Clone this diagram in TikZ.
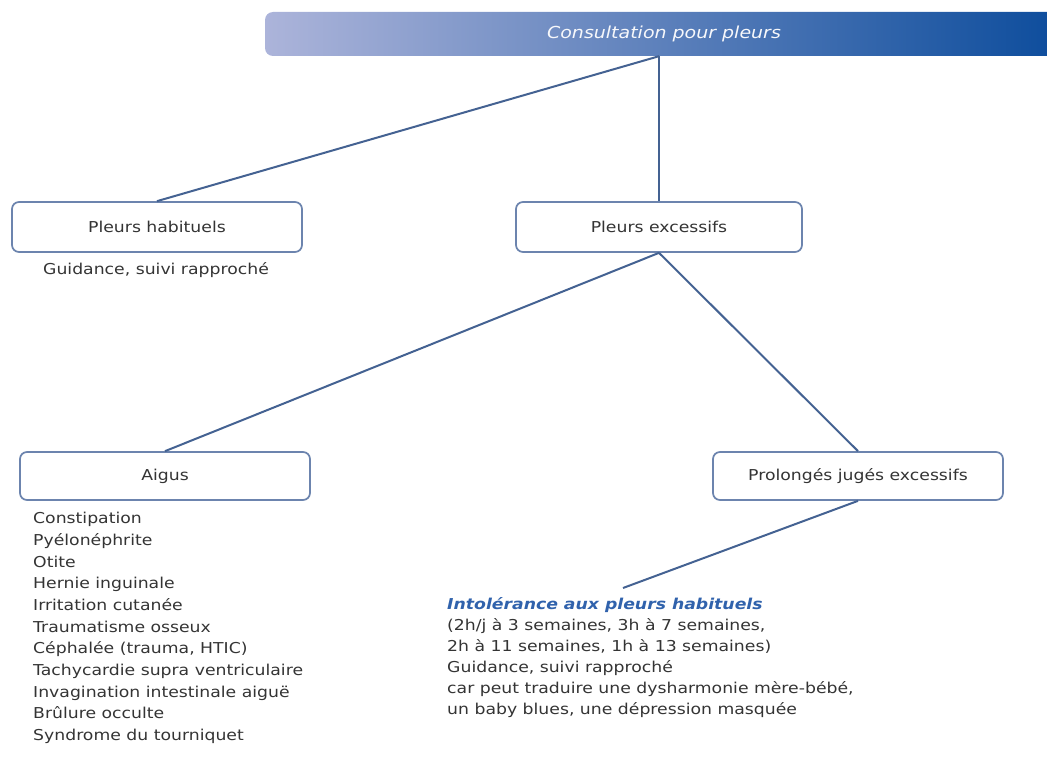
\documentclass[tikz,border=0pt]{standalone}
\usepackage{fontspec}
\setmainfont{DejaVu Sans}[FakeStretch=1.15]
\usetikzlibrary{positioning}

\definecolor{barclair}{RGB}{172,180,218}
\definecolor{barmilieu}{RGB}{122,138,194}
\definecolor{barfonce}{RGB}{12,76,156}
\definecolor{cadre}{RGB}{108,132,174}
\definecolor{trait}{RGB}{68,98,146}
\definecolor{texte}{RGB}{52,52,52}
\definecolor{bleutitre}{RGB}{48,98,172}

\tikzset{
  barre/.style={rounded corners=8pt, left color=barclair, middle color=barmilieu,
    right color=barfonce, minimum width=798, minimum height=44,
    text=white!90!barclair, font=\fontsize{16.5}{20}\selectfont\itshape},
  boite/.style={draw=cadre, line width=1.7pt, rounded corners=7pt, fill=white,
    minimum width=290, minimum height=50, text=texte,
    font=\fontsize{15}{18}\selectfont},
  lien/.style={draw=trait, line width=2pt},
  liste/.style={anchor=north west, align=left, inner sep=0pt, text=texte,
    font=\fontsize{15}{21.7}\selectfont}
}

\begin{document}
\begin{tikzpicture}[x=1pt, y=-1pt]
        \useasboundingbox (0,0) rectangle (1047,760);
        \clip (0,0) rectangle (1047,760);

        % bandeau du haut
        \node[barre] (consult) at (664,34) {Consultation pour pleurs};

        % premier niveau
        \node[boite] (habituels) at (157,227) {Pleurs habituels};
        \node[boite, minimum width=286] (excessifs) at (659,227) {Pleurs excessifs};
        \node[text=texte, font=\fontsize{15}{18}\selectfont] (guidance) at (156,270)
            {Guidance, suivi rapproché};

        % second niveau
        \node[boite, minimum height=48] (aigus) at (165,476) {Aigus};
        \node[boite, minimum height=48] (prolonges) at (858,476)
            {Prolongés jugés excessifs};

        \node[liste] (causes) at (33,512) {Constipation\\
            Pyélonéphrite\\
            Otite\\
            Hernie inguinale\\
            Irritation cutanée\\
            Traumatisme osseux\\
            Céphalée (trauma, HTIC)\\
            Tachycardie supra ventriculaire\\
            Invagination intestinale aiguë\\
            Brûlure occulte\\
            Syndrome du tourniquet};

        \node[liste, font=\fontsize{15}{21}\selectfont] (intolerance) at (447,597)
            {{\color{bleutitre}\bfseries\itshape Intolérance aux pleurs habituels}\\
            (2h/j à 3 semaines, 3h à 7 semaines,\\
            2h à 11 semaines, 1h à 13 semaines)\\
            Guidance, suivi rapproché\\
            car peut traduire une dysharmonie mère-bébé,\\
            un baby blues, une dépression masquée};

        % liaisons
        \coordinate (noeud) at (excessifs.north |- consult.south);
        \coordinate (fin) at (623,588);
        \draw[lien] (noeud) -- (excessifs.north);
        \draw[lien] (noeud) -- (habituels.north);
        \draw[lien] (excessifs.south) -- (aigus.north);
        \draw[lien] (excessifs.south) -- (prolonges.north);
        \draw[lien] (prolonges.south) -- (fin);
\end{tikzpicture}
\end{document}
